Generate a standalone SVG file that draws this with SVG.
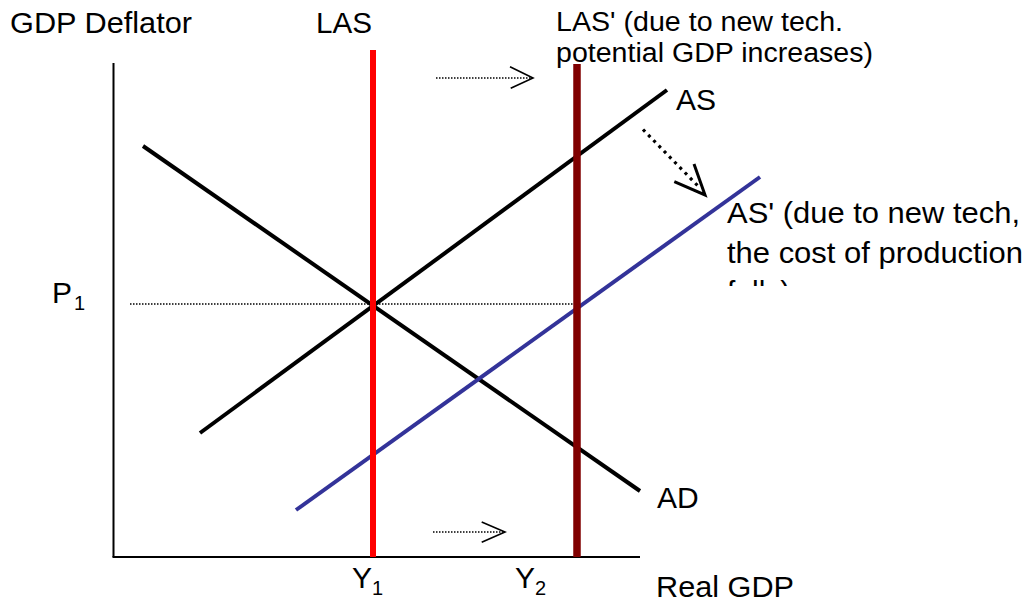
<svg xmlns="http://www.w3.org/2000/svg" width="1027" height="606" viewBox="0 0 1027 606">
  <style>
    text { font-family: "Liberation Sans", Arial, sans-serif; font-size: 30px; fill: #000; }
    .small { font-size: 27px; }
    .sub { font-size: 20px; }
    .axis { stroke: #000; stroke-width: 2; fill: none; }
    .curve { stroke-width: 4; fill: none; }
    .dot1 { stroke: #000; stroke-width: 1.3; stroke-dasharray: 1.5 1.5; fill: none; }
    .head1 { stroke: #000; stroke-width: 1.6; fill: none; }
    .dot3 { stroke: #000; stroke-width: 3.2; stroke-dasharray: 3 4.5; fill: none; }
    .head3 { stroke: #000; stroke-width: 3; fill: none; }
  </style>
  <defs>
    <clipPath id="clipFalls">
      <rect x="700" y="265" width="327" height="21"/>
    </clipPath>
  </defs>
  <rect width="1027" height="606" fill="#fff"/>

  <g id="axes">
    <line class="axis" x1="113.5" y1="63" x2="113.5" y2="557"/>
    <line class="axis" x1="112.5" y1="557" x2="640" y2="557"/>
    <text x="10" y="33" textLength="182" lengthAdjust="spacingAndGlyphs">GDP Deflator</text>
    <text x="656" y="597" textLength="138" lengthAdjust="spacingAndGlyphs">Real GDP</text>
  </g>

  <g id="connectors">
    <line class="dot1" x1="130" y1="304" x2="576" y2="304"/>
    <line class="dot1" x1="436" y1="78" x2="531" y2="78"/>
    <polyline class="head1" points="510,66.7 533,78 510.7,88.3"/>
    <line class="dot1" x1="433" y1="532" x2="504" y2="532"/>
    <polyline class="head1" points="481.7,522 505,532 481.7,542.3"/>
    <line class="dot3" x1="643" y1="129.5" x2="698" y2="186"/>
    <polyline class="head3" points="694,164 705,195 674.3,181.7"/>
  </g>

  <g id="AD">
    <line class="curve" stroke="#000" x1="143" y1="146" x2="640" y2="491"/>
    <text x="657" y="508">AD</text>
  </g>

  <g id="AS">
    <line class="curve" stroke="#000" x1="200" y1="433" x2="667" y2="90"/>
    <text x="676" y="110">AS</text>
  </g>

  <g id="AS-prime">
    <line class="curve" stroke="#333399" x1="296" y1="510" x2="760" y2="177"/>
    <text x="727" y="223" textLength="293" lengthAdjust="spacingAndGlyphs">AS' (due to new tech,</text>
    <text x="727" y="262.5" textLength="296" lengthAdjust="spacingAndGlyphs">the cost of production</text>
    <text x="727" y="302" clip-path="url(#clipFalls)">falls)</text>
  </g>

  <g id="LAS">
    <line stroke="#ff0000" stroke-width="6" x1="373" y1="50" x2="373" y2="557"/>
    <text x="316" y="33" textLength="56" lengthAdjust="spacingAndGlyphs">LAS</text>
  </g>

  <g id="LAS-prime">
    <line stroke="#800000" stroke-width="7.5" x1="577" y1="64" x2="577" y2="557"/>
    <text class="small" x="556" y="31" textLength="287" lengthAdjust="spacingAndGlyphs">LAS' (due to new tech.</text>
    <text class="small" x="556" y="62" textLength="317" lengthAdjust="spacingAndGlyphs">potential GDP increases)</text>
  </g>

  <g id="P1">
    <text x="52" y="303">P<tspan class="sub" x="74" y="310">1</tspan></text>
  </g>

  <g id="Y1">
    <text x="352" y="588">Y<tspan class="sub" x="372" y="595">1</tspan></text>
  </g>

  <g id="Y2">
    <text x="515" y="588">Y<tspan class="sub" x="535" y="595">2</tspan></text>
  </g>
</svg>
